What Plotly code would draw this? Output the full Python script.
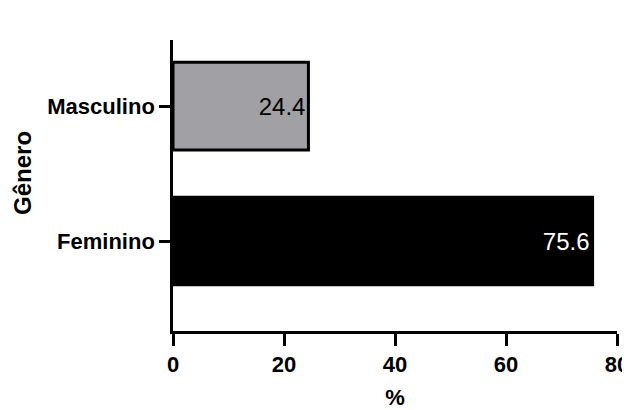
import plotly.graph_objects as go

categories = ["Feminino", "Masculino"]
values = [75.6, 24.4]
labels = ["75.6", "24.4"]
fill_colors = ["#000000", "#a1a0a4"]
text_colors = ["#ffffff", "#000000"]
x_ticks = [0, 20, 40, 60, 80]

FONT = "Liberation Sans, Arial"

fig = go.Figure(go.Bar(
    y=categories, x=values, orientation="h",
    width=0.65,
    marker=dict(color=fill_colors, line=dict(color="#000000", width=3)),
    text=labels, textposition="inside", insidetextanchor="end",
    textfont=dict(family=FONT, size=24, color=text_colors),
    cliponaxis=False,
))

# page body has an 8px margin, so the figure is 8px smaller and offset
fig.update_layout(
    width=622, height=402,
    margin=dict(l=165, r=13, t=32, b=79, autoexpand=False),
    plot_bgcolor="white", paper_bgcolor="white",
    showlegend=False,
    font=dict(family=FONT, color="#000000"),
    xaxis=dict(
        range=[0, 80], tickvals=x_ticks, ticks="outside", ticklen=12, tickwidth=2.5,
        tickcolor="#000", showline=True, linecolor="#000", linewidth=2.5,
        showgrid=False, zeroline=False, automargin=False,
        tickfont=dict(family=FONT, size=22, color="#000", weight="bold"),
        title=dict(text="%", font=dict(family=FONT, size=22, color="#000", weight="bold"), standoff=16),
    ),
    yaxis=dict(
        range=[-0.667, 1.49], ticks="outside", ticklen=11, tickwidth=2.5,
        tickcolor="#000", showline=True, linecolor="#000", linewidth=2.5,
        showgrid=False, zeroline=False, automargin=False,
        tickfont=dict(family=FONT, size=22, color="#000", weight="bold"),
    ),
    annotations=[dict(
        text="Gênero", textangle=-90, showarrow=False,
        xref="paper", yref="paper", x=-0.338, y=0.543,
        xanchor="center", yanchor="middle",
        font=dict(family=FONT, size=24, color="#000", weight="bold"),
    )],
)

fig.write_html("out.html")
